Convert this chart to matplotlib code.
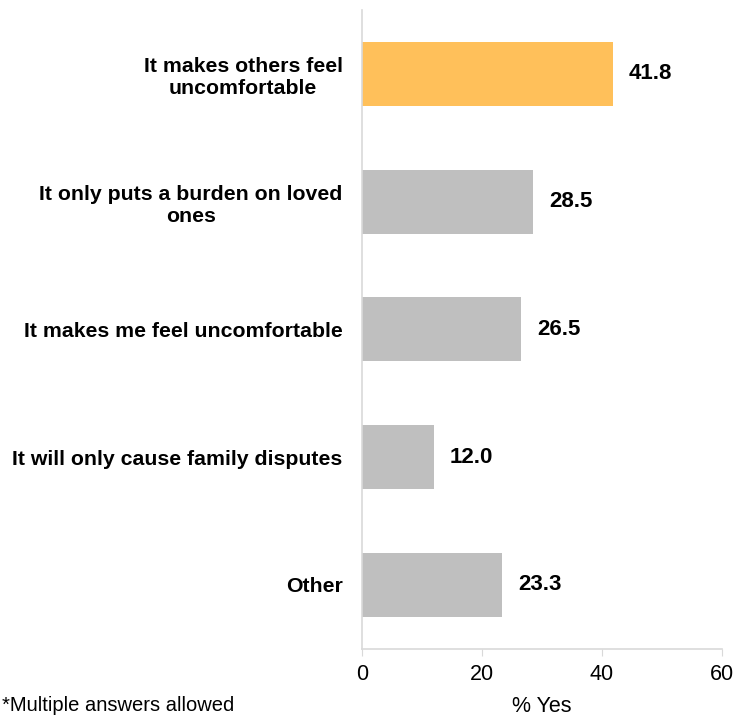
import matplotlib
matplotlib.use('Agg')
import matplotlib.pyplot as plt

plt.rcParams['font.family'] = ['Liberation Sans', 'DejaVu Sans']

categories = ['It makes others feel\nuncomfortable',
              'It only puts a burden on loved\nones',
              'It makes me feel uncomfortable',
              'It will only cause family disputes',
              'Other']
values = [41.8, 28.5, 26.5, 12.0, 23.3]
colors = ['#FFC05A', '#BFBFBF', '#BFBFBF', '#BFBFBF', '#BFBFBF']

fig = plt.figure(figsize=(7.36, 7.16), dpi=100)
ax = fig.add_axes([0.492, 0.094, 0.489, 0.892])

pos = list(range(len(categories)))
ax.barh(pos, values, height=0.5, color=colors)
ax.set_ylim(4.5, -0.5)
ax.set_xlim(0, 60)
ax.set_xticks([0, 20, 40, 60])

for p, v in zip(pos, values):
	ax.annotate('%.1f' % v, (v, p), xytext=(11.5, 0), textcoords='offset points',
		va='center', ha='left', fontsize=16, fontweight='bold')

ax.set_yticks(pos)
ax.set_yticklabels(categories, fontsize=15.3, fontweight='bold', multialignment='center')
ax.tick_params(axis='y', length=0, pad=14)
ax.tick_params(axis='x', labelsize=15.5, color='#D9D9D9', length=5, pad=6)

for s in ['top', 'right']:
	ax.spines[s].set_visible(False)
for s in ['left', 'bottom']:
	ax.spines[s].set_color('#D9D9D9')
	ax.spines[s].set_linewidth(1.2)

ax.set_xlabel('% Yes', fontsize=15.5, labelpad=8)
fig.text(0.003, 0.007, '*Multiple answers allowed', fontsize=14.5, va='baseline')

fig.savefig('out.png')
